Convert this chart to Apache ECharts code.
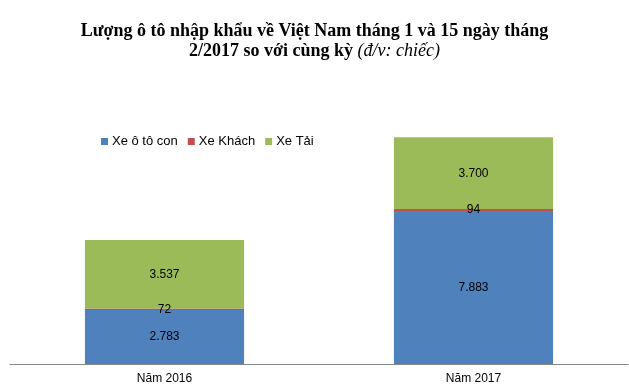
<!DOCTYPE html>
<html>
<head>
<meta charset="utf-8">
<script src="https://cdn.jsdelivr.net/npm/echarts@6/dist/echarts.min.js"></script>
<style>html,body{margin:0;padding:0;background:#fff}#c{width:629px;height:392px}</style>
</head>
<body>
<div id="c"></div>
<script>
const categories = ['Năm 2016', 'Năm 2017'];
const seriesNames = ['Xe ô tô con', 'Xe Khách', 'Xe Tải'];
const xeOtoCon = [2783, 7883];
const xeKhach = [72, 94];
const xeTai = [3537, 3700];
const colors = ['#4F81BD', '#C0504D', '#9BBB59'];
const titleLine1 = 'Lượng ô tô nhập khẩu về Việt Nam tháng 1 và 15 ngày tháng';
const titleLine2a = '2/2017 so với cùng kỳ ';
const titleLine2b = '(đ/v: chiếc)';

function fmt(v) { return String(v).replace(/\B(?=(\d{3})+(?!\d))/g, '.'); }

const chart = echarts.init(document.getElementById('c'), null, {renderer: 'canvas'});
const dataSets = [xeOtoCon, xeKhach, xeTai];
const rich = {
  b: {fontFamily: 'Liberation Serif', fontWeight: 'bold', fontSize: 18, color: '#000'},
  i: {fontFamily: 'Liberation Serif', fontStyle: 'italic', fontWeight: 'normal', fontSize: 18, color: '#000'}
};
chart.setOption({
  animation: false,
  title: [
    {text: '{b|' + titleLine1 + '}', left: 'center', top: 22, padding: 0, textStyle: {rich}},
    {text: '{b|' + titleLine2a + '}{i|' + titleLine2b + '}', left: 'center', top: 42, padding: 0, textStyle: {rich}}
  ],
  legend: {
    left: 96,
    top: 130,
    itemWidth: 7,
    itemHeight: 7,
    itemGap: 10,
    icon: 'rect',
    textStyle: {fontFamily: 'Liberation Sans', fontSize: 13, color: '#000', padding: [0, 0, 0, -1]},
    data: seriesNames
  },
  grid: {left: 10, right: 1, top: 131, bottom: 28, containLabel: false},
  xAxis: {
    type: 'category',
    data: categories,
    axisLine: {lineStyle: {color: '#868686', width: 1}},
    axisTick: {show: false},
    axisLabel: {fontFamily: 'Liberation Sans', fontSize: 12, color: '#000', margin: 9}
  },
  yAxis: {
    type: 'value',
    min: 0,
    max: 12000,
    show: false,
    splitLine: {show: false}
  },
  series: seriesNames.map((n, i) => ({
    name: n,
    type: 'bar',
    stack: 'total',
    barWidth: '51.5%',
    data: dataSets[i],
    itemStyle: {color: colors[i]},
    label: {
      show: true,
      position: 'inside',
      fontFamily: 'Liberation Sans',
      fontSize: 12,
      color: '#000',
      formatter: p => fmt(p.value)
    }
  }))
});
</script>
</body>
</html>
